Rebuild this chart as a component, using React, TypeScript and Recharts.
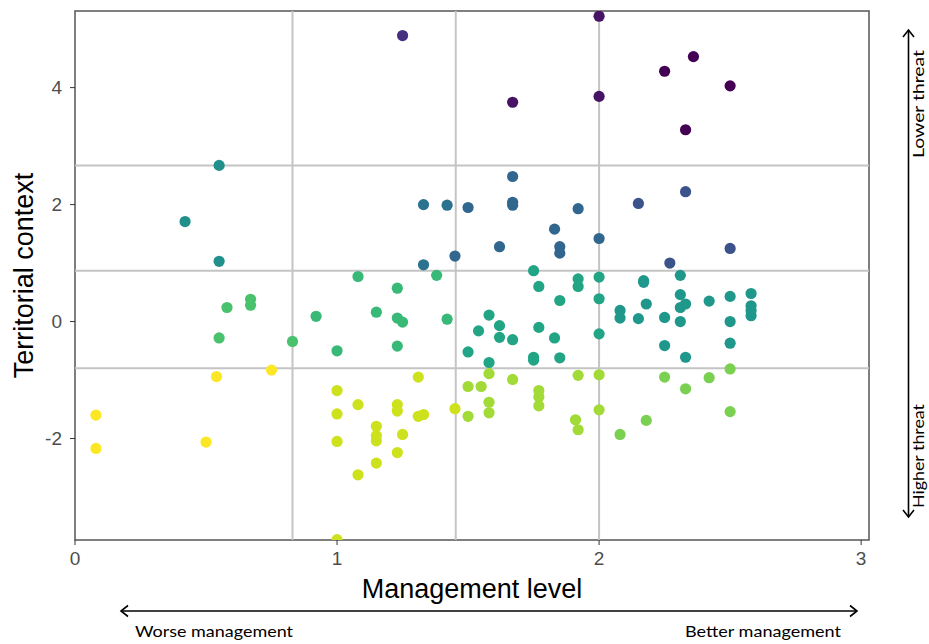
import {
  ReferenceArea,
  ReferenceLine,
  Scatter,
  ScatterChart,
  XAxis,
  YAxis,
} from "recharts";

type Pt = [number, number];

// [management level, territorial context], grouped by the cell of the split grid they fall in
const topB: Pt[] = [[1.25, 4.89]];
const topC: Pt[] = [[1.67, 3.75], [2.0, 3.85], [2.0, 5.22]];
const topD: Pt[] = [[2.25, 4.28], [2.36, 4.53], [2.33, 3.28], [2.5, 4.03]];

const upperA: Pt[] = [[0.55, 2.67], [0.42, 1.71], [0.55, 1.03]];
const upperB: Pt[] = [[1.33, 2.0], [1.42, 1.99], [1.33, 0.97]];
const upperC: Pt[] = [
  [1.5, 1.95], [1.67, 2.48], [1.67, 2.04], [1.67, 1.99], [1.92, 1.93], [1.83, 1.58],
  [2.0, 1.42], [1.85, 1.28], [1.85, 1.17], [1.62, 1.28], [1.45, 1.12],
];
const upperD: Pt[] = [[2.15, 2.02], [2.33, 2.22], [2.5, 1.25], [2.27, 1.0]];

const lowerA: Pt[] = [[0.67, 0.38], [0.67, 0.28], [0.58, 0.24], [0.55, -0.28], [0.83, -0.34]];
const lowerB: Pt[] = [
  [1.08, 0.77], [1.23, 0.57], [1.15, 0.16], [1.23, 0.06], [1.25, -0.01],
  [1.42, 0.04], [1.23, -0.42], [1.38, 0.79], [0.92, 0.09], [1.0, -0.5],
];
const lowerC: Pt[] = [
  [1.75, 0.87], [1.77, 0.6], [1.92, 0.73], [1.92, 0.6], [2.0, 0.76], [2.0, 0.39],
  [1.85, 0.36], [1.58, 0.11], [1.62, -0.07], [1.62, -0.27], [1.54, -0.16], [1.67, -0.31],
  [1.77, -0.1], [1.83, -0.28], [2.0, -0.21], [1.5, -0.52], [1.58, -0.7], [1.75, -0.61],
  [1.75, -0.66], [1.85, -0.62],
];
const lowerD: Pt[] = [
  [2.17, 0.7], [2.17, 0.67], [2.31, 0.79], [2.31, 0.46], [2.31, 0.24], [2.33, 0.3],
  [2.31, 0.0], [2.18, 0.3], [2.08, 0.19], [2.08, 0.06], [2.15, 0.05], [2.25, 0.07],
  [2.25, -0.41], [2.33, -0.61], [2.42, 0.35], [2.5, 0.43], [2.5, 0.0], [2.5, -0.37],
  [2.58, 0.48], [2.58, 0.27], [2.58, 0.19], [2.58, 0.1],
];

const bottomA: Pt[] = [[0.08, -1.6], [0.08, -2.17], [0.5, -2.06], [0.54, -0.94], [0.75, -0.83]];
const bottomB: Pt[] = [
  [1.0, -1.18], [1.08, -1.42], [1.0, -1.58], [1.15, -1.79], [1.15, -1.95], [1.15, -2.04],
  [1.15, -2.42], [1.0, -2.05], [1.08, -2.62], [1.0, -3.73], [1.31, -0.95], [1.23, -1.42],
  [1.23, -1.53], [1.31, -1.62], [1.33, -1.59], [1.25, -1.93], [1.23, -2.24], [1.45, -1.49],
];
const bottomC: Pt[] = [
  [1.58, -0.89], [1.67, -0.99], [1.92, -0.92], [2.0, -0.91], [1.5, -1.11], [1.55, -1.11],
  [1.77, -1.18], [1.77, -1.29], [1.77, -1.44], [1.58, -1.38], [1.58, -1.56], [1.5, -1.62],
  [2.0, -1.51], [1.91, -1.68], [1.92, -1.85],
];
const bottomD: Pt[] = [
  [2.25, -0.95], [2.33, -1.15], [2.08, -1.93], [2.18, -1.69], [2.42, -0.96], [2.5, -0.81],
  [2.5, -1.54],
];

const xTicks = [0, 1, 2, 3];
const yTicks = [-2, 0, 2, 4];
const xSplits = [0.83, 1.453, 2.0];
const ySplits = [2.67, 0.87, -0.8];

const X_DOMAIN: [number, number] = [0, 3.03];
const Y_DOMAIN: [number, number] = [-3.735, 5.31];

const groups = [
  { data: topB, color: "#46307e" },
  { data: topC, color: "#471365" },
  { data: topD, color: "#440154" },
  { data: upperA, color: "#21908d" },
  { data: upperB, color: "#2a728e" },
  { data: upperC, color: "#31668e" },
  { data: upperD, color: "#3b528b" },
  { data: lowerA, color: "#4ac16d" },
  { data: lowerB, color: "#38b977" },
  { data: lowerC, color: "#22a585" },
  { data: lowerD, color: "#1f988b" },
  { data: bottomA, color: "#fde725" },
  { data: bottomB, color: "#cde11d" },
  { data: bottomC, color: "#a2da37" },
  { data: bottomD, color: "#7ad151" },
];

const toRows = (pts: Pt[]) => pts.map(([x, y]) => ({ x, y }));

const tickStyle = { fontSize: 19, fill: "#4d4d4d" };
const noteFont = "Lato, 'Open Sans', sans-serif";

const Dot = (props: any) => (
  <circle cx={props.cx} cy={props.cy} r={5.6} fill={props.fill} />
);

export default function App() {
  return (
    <div
      style={{
        position: "absolute",
        left: 0,
        top: 0,
        width: 929,
        height: 644,
        background: "#fff",
        fontFamily: "'Liberation Sans', Arial, sans-serif",
      }}
    >
      <ScatterChart
        width={929}
        height={644}
        margin={{ top: 11, right: 60, bottom: 46, left: 15 }}
      >
        <XAxis
          type="number"
          dataKey="x"
          domain={X_DOMAIN}
          ticks={xTicks}
          allowDataOverflow
          axisLine={false}
          tickLine={{ stroke: "#333" }}
          tickSize={5}
          tickMargin={7}
          tick={tickStyle}
          height={58}
          label={{
            value: "Management level",
            position: "insideBottom",
            offset: 0,
            style: { fontSize: 27, fill: "#000" },
          }}
        />
        <YAxis
          type="number"
          dataKey="y"
          domain={Y_DOMAIN}
          ticks={yTicks}
          allowDataOverflow
          axisLine={false}
          tickLine={{ stroke: "#333" }}
          tickSize={5}
          tickMargin={8}
          tick={tickStyle}
          width={60}
          label={{
            value: "Territorial context",
            angle: -90,
            position: "insideLeft",
            offset: 8,
            style: { fontSize: 27, fill: "#000", textAnchor: "middle" },
          }}
        />
        {xSplits.map((v) => (
          <ReferenceLine key={`vx${v}`} x={v} stroke="#c4c4c4" strokeWidth={2} />
        ))}
        {ySplits.map((v) => (
          <ReferenceLine key={`hy${v}`} y={v} stroke="#c4c4c4" strokeWidth={2} />
        ))}
        {groups.map((g, i) => (
          <Scatter
            key={i}
            data={toRows(g.data)}
            fill={g.color}
            shape={Dot}
            isAnimationActive={false}
          />
        ))}
        <ReferenceArea
          x1={X_DOMAIN[0]}
          x2={X_DOMAIN[1]}
          y1={Y_DOMAIN[0]}
          y2={Y_DOMAIN[1]}
          fill="none"
          fillOpacity={0}
          stroke="#555"
          strokeWidth={1.5}
        />
      </ScatterChart>

      {/* arrows and side notes */}
      <svg
        width={929}
        height={644}
        style={{ position: "absolute", left: 0, top: 0, pointerEvents: "none" }}
      >
        <g stroke="#000" strokeWidth={1.6} fill="none">
          <line x1={908.5} y1={30} x2={908.5} y2={517} />
          <polyline points="903,37 908.5,30 914,37" />
          <polyline points="903,510 908.5,517 914,510" />
          <line x1={121} y1={611} x2={857} y2={611} />
          <polyline points="128,605.5 121,611 128,616.5" />
          <polyline points="850,605.5 857,611 850,616.5" />
        </g>
        <g fontFamily={noteFont} fontSize={15} fill="#000">
          <text
            x={924}
            y={104}
            textAnchor="middle"
            transform="rotate(-90 924 104)"
            textLength={108}
            lengthAdjust="spacingAndGlyphs"
          >
            Lower threat
          </text>
          <text
            x={924}
            y={456}
            textAnchor="middle"
            transform="rotate(-90 924 456)"
            textLength={104}
            lengthAdjust="spacingAndGlyphs"
          >
            Higher threat
          </text>
          <text x={135} y={637} textLength={158} lengthAdjust="spacingAndGlyphs">
            Worse management
          </text>
          <text x={685} y={637} textLength={156} lengthAdjust="spacingAndGlyphs">
            Better management
          </text>
        </g>
      </svg>
    </div>
  );
}
